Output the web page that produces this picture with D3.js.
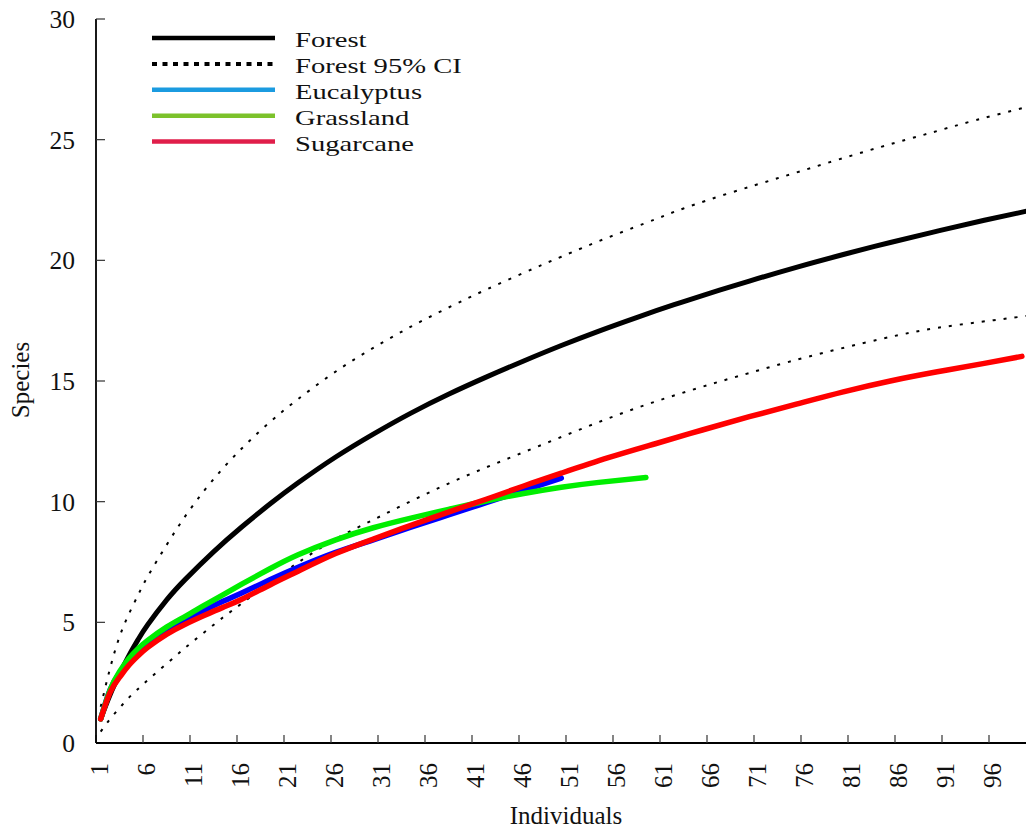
<!DOCTYPE html>
<html>
<head>
<meta charset="utf-8">
<script src="https://cdnjs.cloudflare.com/ajax/libs/d3/7.8.5/d3.min.js"></script>
<style>
  html, body { margin: 0; padding: 0; background: #fff; }
  svg { display: block; }
  text { font-family: "Liberation Serif", "Times New Roman", serif; fill: #111; }
</style>
</head>
<body>
<svg id="chart" width="1026" height="828"></svg>
<script>
// Rarefaction curves: species accumulated vs. individuals sampled
const individualsCount = 100;
const xTickLabels = ["1","6","11","16","21","26","31","36","41","46","51","56","61","66","71","76","81","86","91","96"];
const yTickLabels = [0, 5, 10, 15, 20, 25, 30];

const forestN = [1,2,3,4,5,6,8,10,13,16,19,22,26,30,34,38,42,46,50,54,58,62,66,70,75,80,85,90,95,100];
const forestS = [1.0,2.0,2.85,3.62,4.3,4.9,5.92,6.78,7.92,8.95,9.9,10.78,11.85,12.8,13.67,14.45,15.16,15.83,16.47,17.07,17.63,18.16,18.66,19.14,19.71,20.24,20.74,21.21,21.66,22.08];

const upperN = [1,2,3,4,5,6,8,10,12,14,16,18,20,22,25,28,31,34,37,40,43,47,50,55,60,63,68,73,78,84,89,94,100];
const upperS = [1.5,3.1,4.4,5.35,6.15,6.9,8.2,9.4,10.45,11.38,12.2,12.95,13.63,14.25,15.12,15.9,16.6,17.25,17.85,18.42,18.96,19.65,20.15,20.95,21.7,22.15,22.8,23.4,24.0,24.7,25.25,25.8,26.4];

const lowerN = [1,2,3,4,5,6,8,10,12,14,16,19,22,26,30,34,38,42,46,50,54,58,62,66,70,76,84,90,96,100];
const lowerS = [0.47,1.0,1.45,1.88,2.25,2.6,3.28,3.95,4.58,5.2,5.78,6.65,7.48,8.45,9.25,10.02,10.75,11.42,12.05,12.68,13.3,13.88,14.4,14.88,15.33,15.98,16.74,17.2,17.52,17.72];

const eucalyptusN = [1,2,3,4,5,6,8,10,12,14,16,19,22,26,30,34,38,42,46,50];
const eucalyptusS = [1.0,2.2,2.9,3.4,3.8,4.12,4.67,5.12,5.5,5.87,6.22,6.76,7.28,7.9,8.42,8.94,9.45,9.96,10.47,10.98];

const grasslandN = [1,2,3,4,5,6,8,10,12,14,16,19,22,26,30,34,38,42,46,50,54,59];
const grasslandS = [1.0,2.2,2.95,3.5,3.92,4.25,4.8,5.25,5.7,6.14,6.58,7.22,7.8,8.42,8.92,9.32,9.68,10.03,10.34,10.6,10.8,11.0];

const sugarcaneN = [1,2,3,4,5,6,8,10,12,14,16,19,22,26,30,34,38,42,46,50,55,60,65,70,75,80,85,90,95,99];
const sugarcaneS = [1.0,2.1,2.72,3.22,3.62,3.96,4.5,4.92,5.28,5.62,5.96,6.55,7.12,7.85,8.45,9.02,9.57,10.1,10.65,11.18,11.82,12.4,12.97,13.52,14.04,14.55,15.0,15.38,15.73,16.02];

const legendLabels = ["Forest", "Forest 95% CI", "Eucalyptus", "Grassland", "Sugarcane"];
const legendColors = ["#000000", "#000000", "#1b9be0", "#7cc22b", "#e01e4a"];

const svg = d3.select("#chart");
const margin = { left: 96, top: 19, bottom: 743 };

// category axis: each individual count occupies one band
const x = d3.scaleBand()
  .domain(d3.range(1, individualsCount + 1))
  .range([margin.left, margin.left + 9.4 * individualsCount])
  .paddingInner(0).paddingOuter(0);
const xc = n => x(n) + x.bandwidth() / 2;

const y = d3.scaleLinear().domain([0, 30]).range([margin.bottom, margin.top]);

const zip = (a, b) => a.map((n, i) => ({ n, s: b[i] }));
const line = d3.line().x(d => xc(d.n)).y(d => y(d.s)).curve(d3.curveNatural);

// confidence bounds
[zip(upperN, upperS), zip(lowerN, lowerS)].forEach(pts => {
  svg.append("path").attr("d", line(pts))
    .attr("fill", "none").attr("stroke", "#000")
    .attr("stroke-width", 2).attr("stroke-dasharray", "3,8");
});

// forest mean
svg.append("path").attr("d", line(zip(forestN, forestS)))
  .attr("fill", "none").attr("stroke", "#000")
  .attr("stroke-width", 5).attr("stroke-linecap", "round");

const landUse = [
  { pts: zip(eucalyptusN, eucalyptusS), color: "#0000ff" },
  { pts: zip(grasslandN, grasslandS), color: "#00ee00" },
  { pts: zip(sugarcaneN, sugarcaneS), color: "#ff0000" }
];
landUse.forEach(s => {
  svg.append("path").attr("d", line(s.pts))
    .attr("fill", "none").attr("stroke", s.color)
    .attr("stroke-width", 5.5).attr("stroke-linecap", "round")
    .attr("stroke-linejoin", "round");
});

// axes
const gx = svg.append("g");
gx.append("line").attr("x1", margin.left).attr("x2", 1026)
  .attr("y1", margin.bottom).attr("y2", margin.bottom)
  .attr("stroke", "#000").attr("stroke-width", 1.8);
xTickLabels.forEach(lbl => {
  const n = +lbl;
  gx.append("line").attr("x1", x(n)).attr("x2", x(n))
    .attr("y1", margin.bottom).attr("y2", margin.bottom - 8)
    .attr("stroke", "#333").attr("stroke-width", 1.2);
  gx.append("text")
    .attr("transform", `translate(${xc(n) - 1},${margin.bottom + 20}) rotate(-90)`)
    .attr("text-anchor", "end").attr("dy", "0.35em")
    .attr("font-size", 25).text(lbl);
});

const gy = svg.append("g");
gy.append("line").attr("x1", margin.left).attr("x2", margin.left)
  .attr("y1", margin.top).attr("y2", margin.bottom)
  .attr("stroke", "#000").attr("stroke-width", 1.8);
yTickLabels.forEach(v => {
  if (v > 0) {
    gy.append("line").attr("x1", margin.left).attr("x2", margin.left + 9)
      .attr("y1", y(v)).attr("y2", y(v))
      .attr("stroke", "#333").attr("stroke-width", 1.2);
  }
  gy.append("text").attr("x", 75).attr("y", y(v)).attr("dy", "0.35em")
    .attr("text-anchor", "end").attr("font-size", 25.5).text(v);
});

svg.append("text").attr("x", 566).attr("y", 824)
  .attr("text-anchor", "middle").attr("font-size", 25).text("Individuals");
svg.append("text").attr("transform", "translate(29,380) rotate(-90)")
  .attr("text-anchor", "middle").attr("font-size", 25).text("Species");

// legend
const legend = svg.append("g").attr("transform", "translate(152,38)");
legendLabels.forEach((lbl, i) => {
  const gy0 = i * 25.9;
  const l = legend.append("line").attr("x1", 0).attr("x2", 123)
    .attr("y1", gy0).attr("y2", gy0)
    .attr("stroke", legendColors[i]).attr("stroke-width", 4.5);
  if (i === 1) l.attr("stroke-dasharray", "5,5.5").attr("stroke-width", 4);
  legend.append("text")
    .attr("transform", `translate(143,${gy0 + 9}) scale(1.3,1)`)
    .attr("font-size", 22).text(lbl);
});
</script>
</body>
</html>
